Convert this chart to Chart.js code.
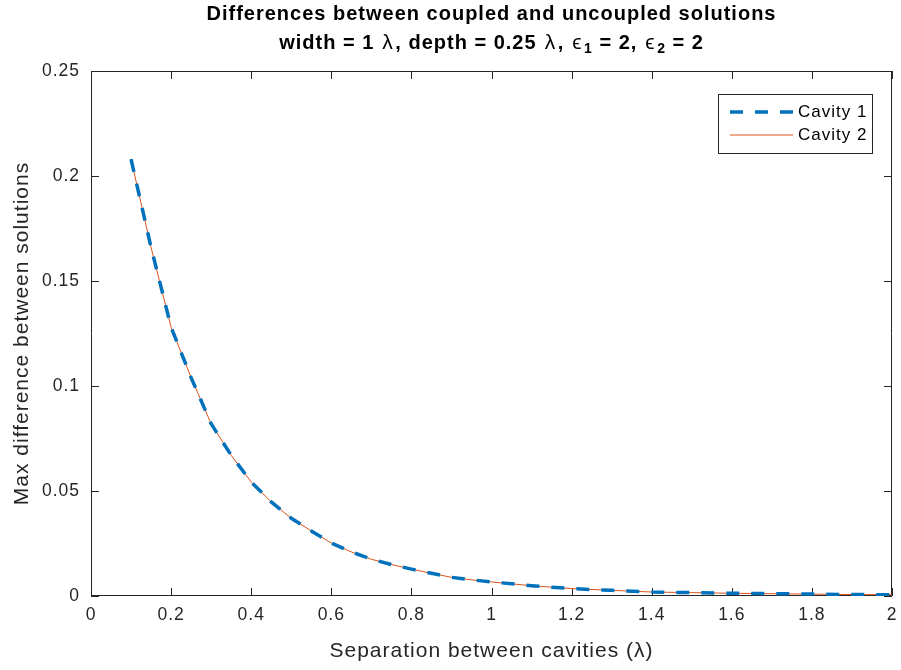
<!DOCTYPE html>
<html>
<head>
<meta charset="utf-8">
<script src="https://cdn.jsdelivr.net/npm/chart.js@4/dist/chart.umd.min.js"></script>
<style>
  html, body { margin: 0; padding: 0; background: #fff; }
  #wrap { width: 901px; height: 670px; }
</style>
</head>
<body>
<div id="wrap"><canvas id="diffChart" width="901" height="670"></canvas></div>
<script>
// separation between cavities (lambda)
var separation = [0.10, 0.15, 0.20, 0.25, 0.30, 0.35, 0.40, 0.45, 0.50, 0.55,
                  0.60, 0.65, 0.70, 0.75, 0.80, 0.85, 0.90, 0.95, 1.00,
                  1.10, 1.20, 1.30, 1.40, 1.50, 1.60, 1.70, 1.80, 1.90, 2.00];

// max difference between coupled / uncoupled solutions
var cavity1 = [0.208, 0.166, 0.128, 0.104, 0.082, 0.067, 0.0543, 0.0448, 0.0370, 0.0310,
               0.0252, 0.0210, 0.0175, 0.0150, 0.0128, 0.0108, 0.0089, 0.0077, 0.0067,
               0.0049, 0.0035, 0.0027, 0.0019, 0.0016, 0.0013, 0.0011, 0.0009, 0.0007, 0.0006];
var cavity2 = [0.208, 0.166, 0.128, 0.104, 0.082, 0.067, 0.0543, 0.0448, 0.0370, 0.0310,
               0.0252, 0.0210, 0.0175, 0.0150, 0.0128, 0.0108, 0.0089, 0.0077, 0.0067,
               0.0049, 0.0035, 0.0027, 0.0019, 0.0016, 0.0013, 0.0011, 0.0009, 0.0007, 0.0006];

var seriesNames = ['Cavity 1', 'Cavity 2'];
var titleLine1 = 'Differences between coupled and uncoupled solutions';
// second title line, pieces so the subscripts can be drawn smaller
var titleLine2 = [
    { t: 'width = 1 ' }, { t: 'λ', plain: true }, { t: ', depth = 0.25 ' }, { t: 'λ', plain: true },
    { t: ', ' }, { t: 'ϵ', plain: true }, { t: '1', sub: true }, { t: ' = 2, ' },
    { t: 'ϵ', plain: true }, { t: '2', sub: true }, { t: ' = 2' }
];

var FONT = '"Liberation Sans", Arial, Helvetica, sans-serif';
var AXIS = '#262626';

function toPoints(xs, ys) {
    return xs.map(function (x, i) { return { x: x, y: ys[i] }; });
}

// matlab style tick text: 0.1 not 0.10, 1 not 1.0
function shortNum(v) {
    return String(Number(v.toFixed(4)));
}

// matlab text renders a bit wider than Liberation Sans, so space letters out
var spacingPlugin = {
    id: 'letterSpacing',
    beforeUpdate: function (chart) { chart.ctx.letterSpacing = '1px'; },
    beforeDraw: function (chart) { chart.ctx.letterSpacing = '1px'; }
};

// title centred over the axes, like matlab does
var titlePlugin = {
    id: 'matlabTitle',
    afterDraw: function (chart) {
        var ctx = chart.ctx, area = chart.chartArea;
        var cx = (area.left + area.right) / 2;
        ctx.save();
        ctx.fillStyle = '#000';
        ctx.textBaseline = 'middle';
        ctx.textAlign = 'center';
        ctx.letterSpacing = '1px';
        ctx.font = 'bold 20px ' + FONT;
        ctx.fillText(titleLine1, cx, 14);

        ctx.textAlign = 'left';
        var fonts = {
            bold: 'bold 20px ' + FONT,
            plain: '21px ' + FONT,
            sub: 'bold 14px ' + FONT
        };
        var total = 0;
        titleLine2.forEach(function (p) {
            ctx.font = p.sub ? fonts.sub : (p.plain ? fonts.plain : fonts.bold);
            p.w = ctx.measureText(p.t).width + (p.plain ? 3 : 0);
            total += p.w;
        });
        var x = cx - total / 2;
        titleLine2.forEach(function (p) {
            ctx.font = p.sub ? fonts.sub : (p.plain ? fonts.plain : fonts.bold);
            ctx.fillText(p.t, x + (p.plain ? 1.5 : 0), p.sub ? 49 : 43);
            x += p.w;
        });
        ctx.restore();
    }
};

// box round the axes with inward ticks on all four sides
var boxPlugin = {
    id: 'matlabBox',
    beforeDatasetsDraw: function (chart) {
        var ctx = chart.ctx, a = chart.chartArea;
        var xs = chart.scales.x, ys = chart.scales.y;
        var len = 8;
        ctx.save();
        ctx.strokeStyle = AXIS;
        ctx.lineWidth = 1;
        ctx.beginPath();
        ctx.rect(a.left + 0.5, a.top + 0.5, a.right - a.left - 1, a.bottom - a.top - 1);
        xs.ticks.forEach(function (t) {
            var px = Math.round(xs.getPixelForValue(t.value)) + 0.5;
            ctx.moveTo(px, a.bottom); ctx.lineTo(px, a.bottom - len);
            ctx.moveTo(px, a.top); ctx.lineTo(px, a.top + len);
        });
        ys.ticks.forEach(function (t) {
            var py = Math.round(ys.getPixelForValue(t.value)) + 0.5;
            ctx.moveTo(a.left, py); ctx.lineTo(a.left + len, py);
            ctx.moveTo(a.right, py); ctx.lineTo(a.right - len, py);
        });
        ctx.stroke();
        ctx.restore();
    }
};

// legend box in the upper right corner
var legendPlugin = {
    id: 'matlabLegend',
    afterDatasetsDraw: function (chart) {
        var ctx = chart.ctx, a = chart.chartArea;
        var bx = a.right - 174, by = a.top + 23, bw = 154, bh = 59;
        ctx.save();
        ctx.fillStyle = '#fff';
        ctx.fillRect(bx, by, bw, bh);
        ctx.strokeStyle = AXIS;
        ctx.lineWidth = 1;
        ctx.strokeRect(bx + 0.5, by + 0.5, bw, bh);
        chart.data.datasets.forEach(function (ds, i) {
            var y = by + 18 + i * 23;
            ctx.beginPath();
            ctx.strokeStyle = ds.borderColor;
            ctx.lineWidth = ds.borderWidth;
            ctx.setLineDash(ds.borderDash || []);
            ctx.moveTo(bx + 12, y);
            ctx.lineTo(bx + 75, y);
            ctx.stroke();
            ctx.setLineDash([]);
            ctx.fillStyle = '#000';
            ctx.font = '17px ' + FONT;
            ctx.textBaseline = 'middle';
            ctx.fillText(ds.label, bx + 80, y);
        });
        ctx.restore();
    }
};

var diffChart = new Chart(document.getElementById('diffChart'), {
    type: 'line',
    data: {
        datasets: [{
            label: seriesNames[0],
            data: toPoints(separation, cavity1),
            borderColor: '#0072BD',
            borderWidth: 3.5,
            borderDash: [13, 12],
            pointRadius: 0,
            fill: false,
            tension: 0
        }, {
            label: seriesNames[1],
            data: toPoints(separation, cavity2),
            borderColor: '#D95319',
            borderWidth: 1,
            pointRadius: 0,
            fill: false,
            tension: 0
        }]
    },
    options: {
        responsive: false,
        animation: false,
        layout: { padding: { top: 71, right: 9, left: 0, bottom: 0 } },
        plugins: {
            legend: { display: false },
            title: { display: false },
            tooltip: { enabled: false }
        },
        scales: {
            x: {
                type: 'linear',
                min: 0,
                max: 2,
                grid: { display: false, drawTicks: false },
                border: { display: false },
                ticks: {
                    stepSize: 0.2, padding: 9, color: AXIS, font: { family: FONT, size: 17.5 },
                    callback: shortNum
                },
                title: {
                    display: true,
                    text: 'Separation between cavities (λ)',
                    color: AXIS,
                    font: { family: FONT, size: 21 },
                    padding: { top: 0, bottom: 6 }
                },
                afterFit: function (scale) {
                    scale.height = 74;
                    scale.paddingLeft = 0;
                    scale.paddingRight = 0;
                }
            },
            y: {
                type: 'linear',
                min: 0,
                max: 0.25,
                grid: { display: false, drawTicks: false },
                border: { display: false },
                ticks: {
                    stepSize: 0.05, padding: 11, color: AXIS, font: { family: FONT, size: 17.5 },
                    callback: shortNum
                },
                title: {
                    display: true,
                    text: 'Max difference between solutions',
                    color: AXIS,
                    font: { family: FONT, size: 21 },
                    padding: { top: 10, bottom: 0 }
                },
                afterFit: function (scale) {
                    scale.width = 91;
                    scale.paddingTop = 0;
                    scale.paddingBottom = 0;
                }
            }
        }
    },
    plugins: [spacingPlugin, boxPlugin, legendPlugin, titlePlugin]
});
</script>
</body>
</html>
